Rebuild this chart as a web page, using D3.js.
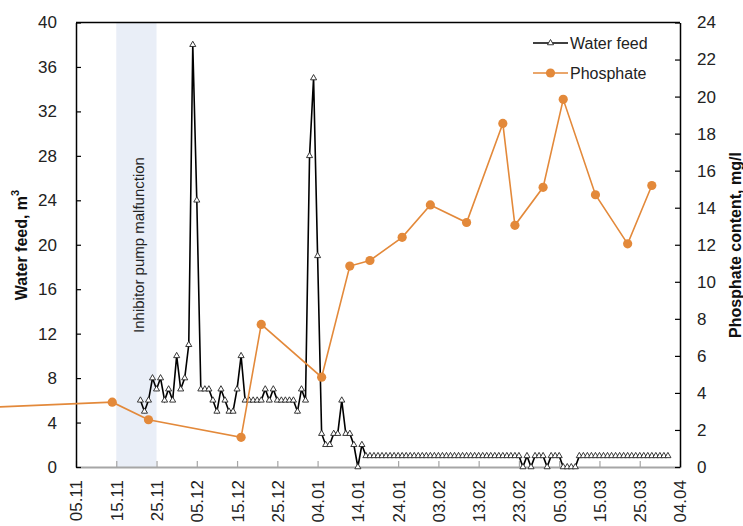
<!DOCTYPE html>
<html>
<head>
<meta charset="UTF-8">
<script src="https://d3js.org/d3.v7.min.js"></script>
<style>
  body { margin: 0; background: #fff; }
  svg { font-family: "Liberation Sans", Arial, sans-serif; }
</style>
</head>
<body>
<svg id="chart" width="743" height="526"></svg>
<script>
// water feed, m3 - one value per day starting at waterStart
const waterStart = "2018-11-21";
const waterFeed = [
  6, 5, 6, 8, 7, 8, 6, 7, 6, 10, 7, 8, 11, 38, 24,
  7, 7, 7, 6, 5, 7, 6, 5, 5, 7, 10,
  6, 6, 6, 6, 6, 7, 6, 7, 6, 6, 6, 6, 6, 5, 7, 6,
  28, 35, 19, 3, 2, 2, 3, 3, 6, 3, 3, 2, 0, 2,
  1, 1, 1, 1, 1, 1, 1, 1, 1, 1, 1, 1, 1, 1, 1, 1, 1, 1, 1, 1,
  1, 1, 1, 1, 1, 1, 1, 1, 1, 1, 1, 1, 1, 1, 1, 1, 1, 1, 1,
  0, 1, 0, 1, 1, 1, 0, 1, 1, 1, 0, 0, 0, 0,
  1, 1, 1, 1, 1, 1, 1, 1, 1, 1, 1, 1, 1, 1, 1, 1, 1, 1, 1, 1, 1, 1, 1
];

// phosphate content, mg/l (first sample lies before the axis start)
const phosphateDates = [
  "2018-10-12", "2018-11-14", "2018-11-23", "2018-12-16", "2018-12-21",
  "2019-01-05", "2019-01-12", "2019-01-17", "2019-01-25", "2019-02-01",
  "2019-02-10", "2019-02-19", "2019-02-22", "2019-03-01", "2019-03-06",
  "2019-03-14", "2019-03-22", "2019-03-28"
];
const phosphateValues = [
  3.2, 3.5, 2.55, 1.6, 7.7,
  4.85, 10.85, 11.15, 12.4, 14.15,
  13.2, 18.55, 13.05, 15.1, 19.85,
  14.7, 12.05, 15.2
];

const xTicks = [
  "2018-11-05", "2018-11-15", "2018-11-25", "2018-12-05", "2018-12-15",
  "2018-12-25", "2019-01-04", "2019-01-14", "2019-01-24", "2019-02-03",
  "2019-02-13", "2019-02-23", "2019-03-05", "2019-03-15", "2019-03-25",
  "2019-04-04"
];
const leftTicks = [0, 4, 8, 12, 16, 20, 24, 28, 32, 36, 40];
const rightTicks = [0, 2, 4, 6, 8, 10, 12, 14, 16, 18, 20, 22, 24];
const malfunction = ["2018-11-15", "2018-11-25"];

const parse = d3.timeParse("%Y-%m-%d");
const fmt = d3.timeFormat("%d.%m");

const water = waterFeed.map((v, i) => ({ date: d3.timeDay.offset(parse(waterStart), i), v }));
const phosphate = phosphateDates.map((d, i) => ({ date: parse(d), v: phosphateValues[i] }));

const svg = d3.select("#chart");
const plotL = 76, plotR = 680, plotT = 22.5, plotB = 467;

const x = d3.scaleTime()
  .domain([parse(xTicks[0]), parse(xTicks[xTicks.length - 1])])
  .range([plotL, plotR]);
const yL = d3.scaleLinear().domain([0, 40]).range([plotB, plotT]);
const yR = d3.scaleLinear().domain([0, 24]).range([plotB, plotT]);

const orange = "#E3893A";

// malfunction band
svg.append("rect")
  .attr("x", x(parse(malfunction[0])))
  .attr("y", plotT)
  .attr("width", x(parse(malfunction[1])) - x(parse(malfunction[0])))
  .attr("height", plotB - plotT)
  .attr("fill", "#E9EEF7");

const bandMid = (x(parse(malfunction[0])) + x(parse(malfunction[1]))) / 2;
svg.append("text")
  .attr("transform", `translate(${bandMid + 2},245) rotate(-90)`)
  .attr("text-anchor", "middle")
  .attr("dominant-baseline", "central")
  .style("font-size", "15px")
  .attr("fill", "#222")
  .text("Inhibitor pump malfunction");

// axes
const xAxis = svg.append("g")
  .attr("transform", `translate(0,${plotB})`)
  .call(d3.axisBottom(x)
    .tickValues(xTicks.map(parse))
    .tickFormat(fmt)
    .tickSizeInner(-6)
    .tickSizeOuter(0)
    .tickPadding(0));
xAxis.select(".domain").attr("stroke", "#A6A6A6").attr("stroke-width", 2);
xAxis.selectAll(".tick line").attr("stroke", "#A6A6A6").attr("stroke-width", 1.2);
xAxis.selectAll(".tick text")
  .attr("transform", "rotate(-90)")
  .attr("text-anchor", "end")
  .attr("x", -13)
  .attr("y", 0)
  .attr("dy", "0.35em")
  .attr("fill", "#222")
  .style("font-size", "17px")
  .style("font-family", "'Liberation Sans', Arial, sans-serif");

const lAxis = svg.append("g")
  .attr("transform", `translate(${plotL},0)`)
  .call(d3.axisLeft(yL).tickValues(leftTicks).tickSizeInner(-5).tickSizeOuter(0).tickPadding(19));
const rAxis = svg.append("g")
  .attr("transform", `translate(${plotR},0)`)
  .call(d3.axisRight(yR).tickValues(rightTicks).tickSizeInner(-5).tickSizeOuter(0).tickPadding(17));
[lAxis, rAxis].forEach(a => {
  a.select(".domain").attr("stroke", "#000").attr("stroke-width", 1.5);
  a.selectAll(".tick line").attr("stroke", "#000").attr("stroke-width", 1.2);
  a.selectAll(".tick text")
    .attr("fill", "#222")
    .style("font-size", "17px")
    .style("font-family", "'Liberation Sans', Arial, sans-serif");
});

svg.append("line")
  .attr("x1", plotL).attr("x2", plotR)
  .attr("y1", plotT).attr("y2", plotT)
  .attr("stroke", "#000").attr("stroke-width", 1.5);

// axis titles
const leftTitle = svg.append("text")
  .attr("transform", "translate(21,245) rotate(-90)")
  .attr("text-anchor", "middle")
  .attr("dominant-baseline", "central")
  .style("font-size", "16px")
  .style("font-weight", "bold")
  .attr("fill", "#111");
leftTitle.append("tspan").text("Water feed, m");
leftTitle.append("tspan").attr("baseline-shift", "super").style("font-size", "11px").text("3");

svg.append("text")
  .attr("transform", "translate(735,245) rotate(-90)")
  .attr("text-anchor", "middle")
  .attr("dominant-baseline", "central")
  .style("font-size", "16px")
  .style("font-weight", "bold")
  .attr("fill", "#111")
  .text("Phosphate content, mg/l");

// water feed
const tri = d3.symbol().type(d3.symbolTriangle).size(16);
svg.append("path")
  .datum(water)
  .attr("fill", "none")
  .attr("stroke", "#000")
  .attr("stroke-width", 1.6)
  .attr("d", d3.line().x(d => x(d.date)).y(d => yL(d.v)));
svg.append("g").selectAll("path")
  .data(water)
  .join("path")
  .attr("d", tri)
  .attr("transform", d => `translate(${x(d.date)},${yL(d.v)})`)
  .attr("fill", "#fff")
  .attr("stroke", "#222")
  .attr("stroke-width", 0.9);

// phosphate
svg.append("path")
  .datum(phosphate)
  .attr("fill", "none")
  .attr("stroke", orange)
  .attr("stroke-width", 1.6)
  .attr("d", d3.line().x(d => x(d.date)).y(d => yR(d.v)));
svg.append("g").selectAll("circle")
  .data(phosphate)
  .join("circle")
  .attr("cx", d => x(d.date))
  .attr("cy", d => yR(d.v))
  .attr("r", 4.6)
  .attr("fill", orange);

// legend
const legend = svg.append("g");
legend.append("line").attr("x1", 533).attr("x2", 568).attr("y1", 43).attr("y2", 43)
  .attr("stroke", "#000").attr("stroke-width", 1.6);
legend.append("path").attr("d", tri).attr("transform", "translate(550.5,43)")
  .attr("fill", "#fff").attr("stroke", "#222").attr("stroke-width", 0.9);
legend.append("text").attr("x", 570).attr("y", 43).attr("dominant-baseline", "central")
  .style("font-size", "16px").attr("fill", "#222").text("Water feed");
legend.append("line").attr("x1", 533).attr("x2", 568).attr("y1", 73).attr("y2", 73)
  .attr("stroke", orange).attr("stroke-width", 1.6);
legend.append("circle").attr("cx", 550.5).attr("cy", 73).attr("r", 4.6).attr("fill", orange);
legend.append("text").attr("x", 570).attr("y", 73).attr("dominant-baseline", "central")
  .style("font-size", "16px").attr("fill", "#222").text("Phosphate");
</script>
</body>
</html>
